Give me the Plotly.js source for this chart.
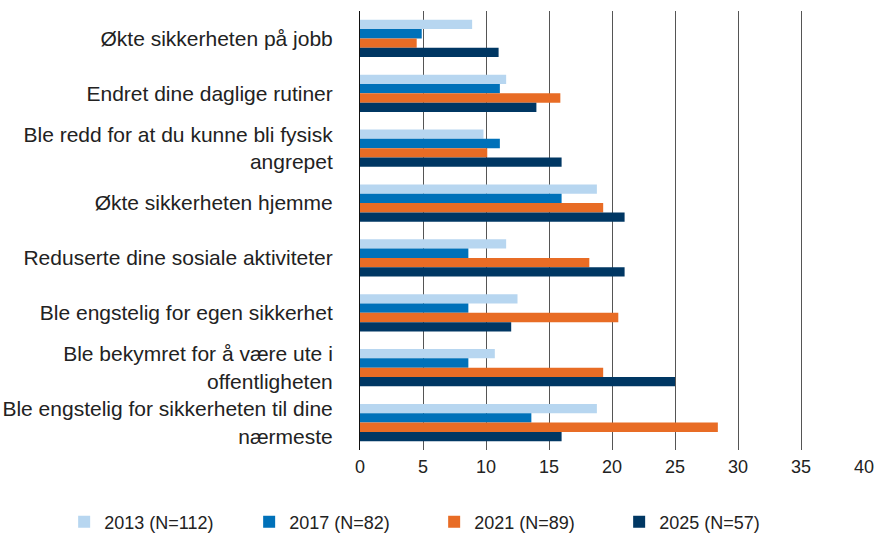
<!DOCTYPE html>
<html>
<head>
<meta charset="utf-8">
<script src="https://cdn.plot.ly/plotly-3.0.1.min.js"></script>
<style>html,body{margin:0;padding:0;background:#fff;}#chart{width:878px;height:535px;}</style>
</head>
<body>
<div id="chart"></div>
<script>
const categories = [
  "Økte sikkerheten på jobb",
  "Endret dine daglige rutiner",
  "Ble redd for at du kunne bli fysisk<br>angrepet",
  "Økte sikkerheten hjemme",
  "Reduserte dine sosiale aktiviteter",
  "Ble engstelig for egen sikkerhet",
  "Ble bekymret for å være ute i<br>offentligheten",
  "Ble engstelig for sikkerheten til dine<br>nærmeste"
];
const seriesNames = ["2013 (N=112)", "2017 (N=82)", "2021 (N=89)", "2025 (N=57)"];
const v2013 = [8.9, 11.6, 9.8, 18.8, 11.6, 12.5, 10.7, 18.8];
const v2017 = [4.9, 11.1, 11.1, 16.0, 8.6, 8.6, 8.6, 13.6];
const v2021 = [4.5, 15.9, 10.1, 19.3, 18.2, 20.5, 19.3, 28.4];
const v2025 = [11.0, 14.0, 16.0, 21.0, 21.0, 12.0, 25.0, 16.0];
const xTicks = [0, 5, 10, 15, 20, 25, 30, 35, 40];
const colors = ["#b7d6f0", "#0071b9", "#e86c25", "#003763"];

const values = [v2013, v2017, v2021, v2025];
const traces = values.map((v, i) => ({
  type: "bar",
  orientation: "h",
  name: seriesNames[i],
  x: v,
  y: categories,
  marker: {color: colors[i]},
  hoverinfo: "x+y"
}));

const layout = {
  width: 878,
  height: 535,
  margin: {l: 360, r: 14, t: 11, b: 85, autoexpand: false},
  paper_bgcolor: "#ffffff",
  plot_bgcolor: "#ffffff",
  font: {family: "Liberation Sans, Arial, sans-serif", size: 18, color: "#222"},
  barmode: "group",
  bargap: 0.32,
  bargroupgap: 0,
  showlegend: true,
  legend: {
    orientation: "h",
    x: -0.587, xanchor: "left",
    y: -0.122, yanchor: "top",
    font: {size: 18, color: "#222"},
    entrywidth: 140,
    entrywidthmode: "pixels",
    traceorder: "normal"
  },
  xaxis: {
    range: [0, 40],
    tickvals: xTicks,
    ticktext: xTicks.map(String),
    showgrid: true,
    gridcolor: "#555",
    gridwidth: 1,
    zeroline: false,
    showline: false,
    ticks: "outside",
    ticklen: 0,
    tickfont: {size: 18, color: "#222"},
    automargin: false,
    fixedrange: true
  },
  yaxis: {
    autorange: "reversed",
    showline: true,
    linecolor: "#111",
    linewidth: 1,
    ticks: "",
    ticklabelstandoff: 22,
    tickfont: {size: 21, color: "#222"},
    automargin: false,
    fixedrange: true
  }
};

Plotly.newPlot("chart", traces, layout, {displayModeBar: false, staticPlot: true});
</script>
</body>
</html>
